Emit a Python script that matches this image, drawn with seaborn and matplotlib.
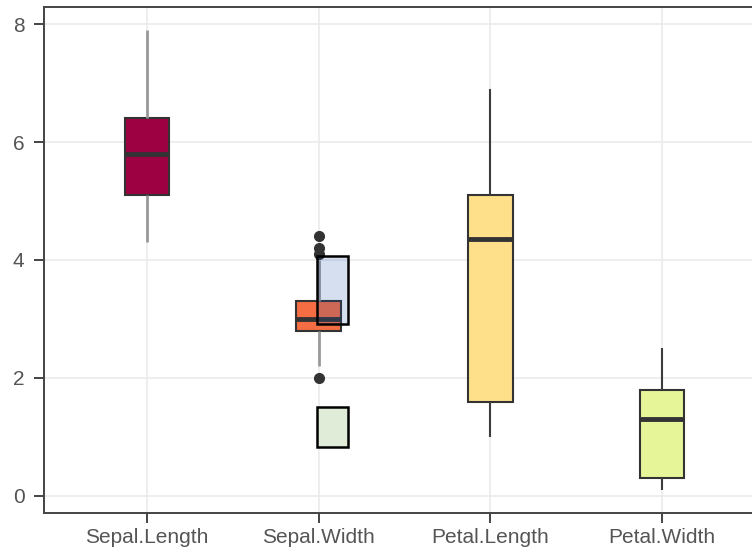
import matplotlib
matplotlib.use("Agg")
import matplotlib.pyplot as plt
from matplotlib.patches import Rectangle
import seaborn as sns
import pandas as pd

# ---- data ----
categories = ["Sepal.Length", "Sepal.Width", "Petal.Length", "Petal.Width"]
sepal_length = [4.3, 5.1, 5.8, 6.4, 7.9]
sepal_width = [2.0, 2.2, 2.5, 2.7, 2.8, 2.9, 3.0, 3.0, 3.0, 3.1, 3.2, 3.2, 3.3,
               4.0, 4.1, 4.2, 4.4]
petal_length = [1.0, 1.6, 4.35, 5.1, 6.9]
petal_width = [0.1, 0.3, 1.3, 1.8, 2.5]
box_colors = ["#9E0142", "#F46D43", "#FEE08B", "#E6F598"]
yticks = [0, 2, 4, 6, 8]

# overlay rectangles (category index, x from/to, y from/to)
rect_x = [0.99, 1.17]
rect_blue_y = [2.91, 4.06]
rect_green_y = [0.83, 1.51]

values = [sepal_length, sepal_width, petal_length, petal_width]
df = pd.DataFrame({
    "variable": [c for c, v in zip(categories, values) for _ in v],
    "value": [x for v in values for x in v],
})

plt.rcParams["font.family"] = ["Liberation Sans", "DejaVu Sans"]

fig = plt.figure(figsize=(7.52, 5.53), dpi=100)
ax = fig.add_axes([44 / 752, 40 / 553, (765 - 44) / 752, (513 - 7) / 553])
ax.set_facecolor("white")

sns.boxplot(
    data=df, x="variable", y="value", hue="variable", order=categories,
    hue_order=categories, palette=dict(zip(categories, box_colors)),
    width=0.26, legend=False, showcaps=False, saturation=1, ax=ax,
    linecolor="#333333", linewidth=1.5,
    medianprops=dict(color="#333333", linewidth=3.5),
    flierprops=dict(marker="o", markerfacecolor="#333333",
                    markeredgecolor="#333333", markersize=7),
)

whisk_styles = [("#999999", 2.0), ("#999999", 2.0), ("#3c3c3c", 1.5), ("#3c3c3c", 1.5)]
for cont, (wc, wl) in zip(ax.containers, whisk_styles):
    try:
        for w in cont.whiskers:
            w.set_color(wc)
            w.set_linewidth(wl)
    except AttributeError:
        pass

ax.add_patch(Rectangle((rect_x[0], rect_blue_y[0]), rect_x[1] - rect_x[0],
                       rect_blue_y[1] - rect_blue_y[0],
                       facecolor=(0.11, 0.31, 0.68, 0.18), edgecolor="black",
                       linewidth=1.8, zorder=5))
ax.add_patch(Rectangle((rect_x[0], rect_green_y[0]), rect_x[1] - rect_x[0],
                       rect_green_y[1] - rect_green_y[0],
                       facecolor="#E0ECD8", edgecolor="black",
                       linewidth=1.8, zorder=5))

ax.set_xlim(-0.6, 3.6)
ax.set_ylim(-0.29, 8.29)
ax.set_yticks(yticks)
ax.set_yticklabels([str(t) for t in yticks])
ax.set_xlabel("")
ax.set_ylabel("")

ax.grid(True, color="#EBEBEB", linewidth=1.2)
ax.set_axisbelow(True)
for s in ax.spines.values():
    s.set_color("#444444")
    s.set_linewidth(1.4)
ax.tick_params(axis="both", length=7, width=1.4, color="#444444",
               labelcolor="#555555", labelsize=15)
ax.tick_params(axis="y", pad=7)
ax.tick_params(axis="x", pad=4)

fig.savefig("out.png", dpi=100)
